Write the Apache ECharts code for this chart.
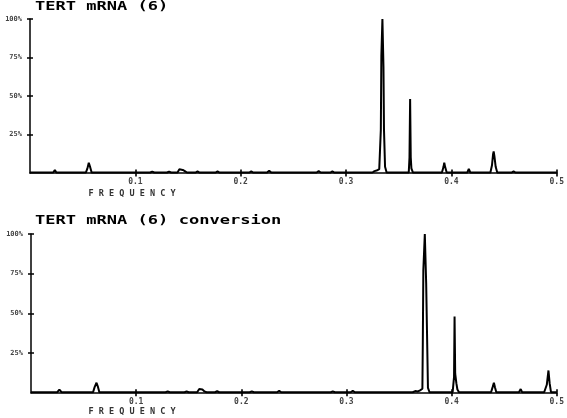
<!DOCTYPE html>
<html><head><meta charset="utf-8">
<script src="https://cdn.jsdelivr.net/npm/echarts@6/dist/echarts.min.js"></script>
<style>html,body{margin:0;padding:0;background:#fff}#c{width:567px;height:418px}</style>
</head><body><div id="c"></div>
<script>
var xTicks = [0.1, 0.2, 0.3, 0.4, 0.5];
var yTicks = [25, 50, 75, 100];
var topTitle = 'TERT mRNA (6)';
var botTitle = 'TERT mRNA (6) conversion';
var xName = 'F R E Q U E N C Y';

var topFreq = [0,0.0075,0.0085,0.0095,0.022,0.0236,0.025,0.034,0.0356,0.037,0.053,0.0545,0.0558,0.057,0.0585,
  0.114,0.116,0.118,0.130,0.132,0.134,0.140,0.1418,0.143,0.145,0.147,0.149,0.157,0.159,0.161,0.176,0.178,0.180,
  0.208,0.21,0.212,0.225,0.227,0.229,0.272,0.274,0.276,0.285,0.287,0.289,0.325,0.327,0.329,0.3315,0.3325,
  0.333,0.3335,0.3345,0.3355,0.336,0.337,0.3385,0.3595,0.3602,0.3608,0.3614,0.362,0.3635,0.37,0.3715,0.373,
  0.391,0.3925,0.3932,0.394,0.3955,0.415,0.4165,0.418,0.437,0.4385,0.4395,0.4401,0.4408,0.442,0.4435,
  0.457,0.459,0.461,0.471,0.4726,0.474,0.489,0.49,0.491,0.497,0.498,0.499,0.5];
var topPct = [0.3,0.3,1.2,0.3,0.3,2,0.3,0.3,1,0.3,0.3,3,6.7,4,0.3,
  0.3,0.9,0.3,0.3,0.9,0.3,0.3,2.4,1.8,2,1.2,0.3,0.3,1,0.3,0.3,1,0.3,
  0.3,1,0.3,0.3,1.5,0.3,0.3,1.2,0.3,0.3,1,0.3,0.3,1.2,1.6,2.5,3,
  28,76,100,69,28,4,0.3,0.3,10,48,10,3,0.3,0.3,1,0.3,
  0.3,4,6.7,4,0.3,0.3,2.6,0.3,0.3,5,12,14,11,4,0.3,
  0.3,1,0.3,0.3,0.9,0.3,0.3,0.9,0.3,0.3,1,0.3,0.3];

var botFreq = [0,0.0078,0.0088,0.0098,0.025,0.027,0.029,0.038,0.0396,0.041,0.059,0.0605,0.0623,0.0635,0.065,
  0.128,0.130,0.132,0.146,0.148,0.15,0.158,0.16,0.1615,0.163,0.165,0.167,0.175,0.177,0.179,0.208,0.21,0.212,
  0.234,0.236,0.238,0.285,0.287,0.289,0.304,0.306,0.308,0.32,0.3217,0.3235,0.363,0.3654,0.368,0.37,0.3715,
  0.3722,0.3726,0.3731,0.3745,0.3758,0.3766,0.3775,0.379,0.399,0.4003,0.401,0.4018,0.4023,0.4028,0.4034,0.4045,
  0.4055,0.407,0.411,0.4123,0.4135,0.4375,0.439,0.4402,0.4412,0.4425,0.464,0.4657,0.467,
  0.488,0.4905,0.4921,0.4932,0.4945,0.5];
var botPct = [0.3,0.3,0.9,0.3,0.3,2,0.3,0.3,0.9,0.3,0.3,3.5,6.3,4,0.3,
  0.3,0.8,0.3,0.3,0.8,0.3,0.3,2.3,1.5,2,0.8,0.3,0.3,0.9,0.3,0.3,0.8,0.3,
  0.3,1.2,0.3,0.3,0.8,0.3,0.3,1.2,0.3,0.3,0.8,0.3,0.3,1,0.8,1.5,2,
  2.5,31,77,100,69,38,3,0.3,0.3,1.5,0.5,1,10,48,12,6,
  2,0.3,0.3,0.8,0.3,0.3,3.5,6.3,3.5,0.3,0.3,2.3,0.3,
  0.3,5,14,6,0.3,0.3];

function zip(a, b) { return a.map(function (v, i) { return [v, b[i]]; }); }

var chart = echarts.init(document.getElementById('c'), null, {renderer: 'canvas'});
var mono = 'DejaVu Sans Mono';
var grids = [
  {left: 30, right: 8, top: 19, height: 154},
  {left: 31, right: 6, top: 234, height: 158.7}
];
var xAxes = [], yAxes = [];
[0, 1].forEach(function (g) {
  xAxes.push({
    type: 'value', gridIndex: g, min: 0, max: 0.5, interval: 0.1, position: 'bottom',
    axisLine: {onZero: false, lineStyle: {color: '#000', width: 1.6}},
    axisTick: {show: true, length: 3.5, customValues: xTicks, lineStyle: {color: '#000', width: 1.6}},
    axisLabel: {customValues: xTicks, margin: 5, fontFamily: mono, fontSize: 8, fontWeight: 'bold', color: '#444',
      formatter: function (v) { return v.toFixed(1); }},
    splitLine: {show: false}
  });
  xAxes.push({
    type: 'value', gridIndex: g, min: 0, max: 0.5, interval: 0.1, position: 'bottom', offset: 0,
    axisLine: {show: false, onZero: false},
    axisTick: {show: true, inside: true, length: 3.5, customValues: xTicks, lineStyle: {color: '#000', width: 1.6}},
    axisLabel: {show: false}, splitLine: {show: false}
  });
  yAxes.push({
    type: 'value', gridIndex: g, min: 0, max: 100, interval: 25, position: 'left',
    axisLine: {show: true, onZero: false, lineStyle: {color: '#000', width: 1.5}},
    axisTick: {show: true, length: 3, customValues: yTicks, lineStyle: {color: '#000', width: 1.5}},
    axisLabel: {customValues: yTicks, margin: 8, fontFamily: mono, fontSize: 7, fontWeight: 'bold', color: '#444',
      formatter: function (v) { return v + '%'; }},
    splitLine: {show: false}
  });
  yAxes.push({
    type: 'value', gridIndex: g, min: 0, max: 100, interval: 25, position: 'left', offset: 0,
    axisLine: {show: false, onZero: false},
    axisTick: {show: true, inside: true, length: 3, customValues: yTicks, lineStyle: {color: '#000', width: 1.5}},
    axisLabel: {show: false}, splitLine: {show: false}
  });
});

function titleText(txt, x, y) {
  return {type: 'text', x: x, y: y, scaleX: 1.42, scaleY: 1,
    style: {text: txt, fill: '#000', font: 'bold 12px "DejaVu Sans Mono"', textVerticalAlign: 'middle'}};
}
function nameText(txt, x, y) {
  return {type: 'text', x: x, y: y,
    style: {text: txt, fill: '#333', font: 'bold 8.5px "DejaVu Sans Mono"', textAlign: 'center', textVerticalAlign: 'middle'}};
}

chart.setOption({
  animation: false,
  backgroundColor: '#fff',
  grid: grids,
  xAxis: xAxes,
  yAxis: yAxes,
  graphic: [
    titleText(topTitle, 35, 7),
    titleText(botTitle, 35, 221),
    nameText(xName, 132, 194),
    nameText(xName, 132, 412)
  ],
  series: [
    {type: 'line', xAxisIndex: 0, yAxisIndex: 0, data: zip(topFreq, topPct), showSymbol: false,
      lineStyle: {color: '#000', width: 2}, sampling: null},
    {type: 'line', xAxisIndex: 2, yAxisIndex: 2, data: zip(botFreq, botPct), showSymbol: false,
      lineStyle: {color: '#000', width: 2}, sampling: null}
  ]
});
</script></body></html>
